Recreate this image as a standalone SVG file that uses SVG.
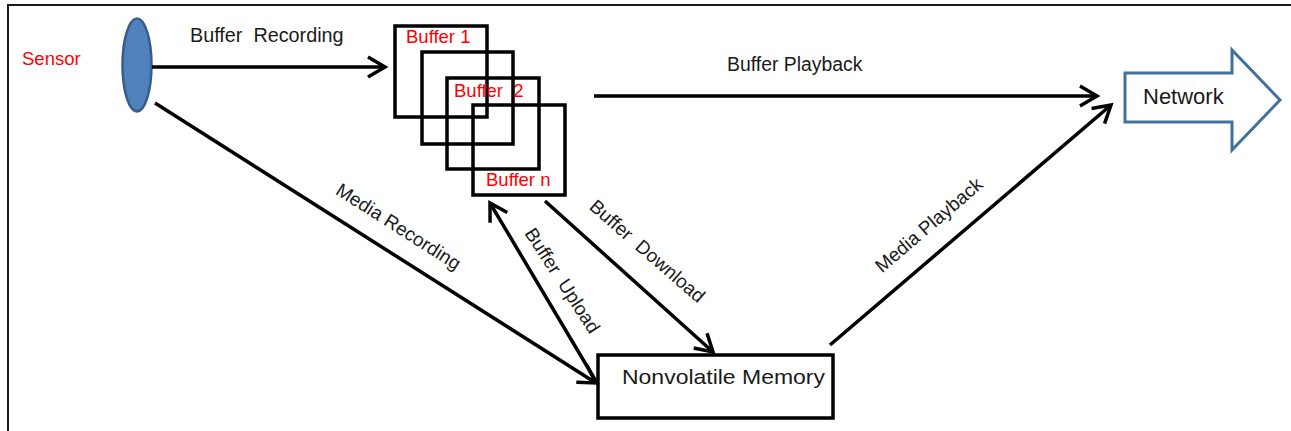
<svg xmlns="http://www.w3.org/2000/svg" width="1291" height="431" viewBox="0 0 1291 431">
<style>
.lbl{font-family:"Liberation Sans",Arial,sans-serif;font-size:19px;fill:#1a1a1a;white-space:pre}
.red{font-family:"Liberation Sans",Arial,sans-serif;font-size:18.5px;fill:#ff0000;white-space:pre}
.box{fill:none;stroke:#000;stroke-width:3.5}
.conn{fill:none;stroke:#000;stroke-width:3.5}
</style>
<defs>
<marker id="arr" viewBox="-22 -14 26 28" refX="0" refY="0" markerUnits="userSpaceOnUse" markerWidth="26" markerHeight="28" orient="auto-start-reverse">
<path d="M-17,-10 L0,0 L-17,10" fill="none" stroke="#000" stroke-width="3.5" stroke-linejoin="miter"/>
</marker>
</defs>
<rect width="1291" height="431" fill="#fff"/>
<path d="M8,431 L8,5 L1291,5" fill="none" stroke="#1a1a1a" stroke-width="2"/>

<g id="sensor">
<ellipse cx="137" cy="65" rx="14.5" ry="46.5" fill="#4f81bd" stroke="#385d8a" stroke-width="2.5"/>
<text class="red" x="22" y="65">Sensor</text>
</g>

<g id="buffers">
<rect class="box" x="395" y="26" width="92" height="91"/>
<rect class="box" x="422" y="52" width="91" height="92"/>
<rect class="box" x="447" y="78" width="92" height="91"/>
<rect class="box" x="473" y="105" width="92" height="90"/>
<text class="red" x="406" y="43">Buffer 1</text>
<text class="red" x="454" y="97">Buffer  2</text>
<text class="red" x="486" y="186">Buffer n</text>
</g>

<g id="network">
<path d="M1125,73 L1232,73 L1232,50 L1280,100 L1232,150 L1232,122 L1125,122 Z" fill="#fff" stroke="#41719c" stroke-width="3"/>
<text class="lbl" x="1143" y="104" style="font-size:22px">Network</text>
</g>

<g id="memory">
<rect class="box" x="598" y="355" width="235" height="63"/>
<text class="lbl" x="622" y="384" style="font-size:21px" textLength="203" lengthAdjust="spacingAndGlyphs">Nonvolatile Memory</text>
</g>

<g id="connectors">
<line class="conn" x1="152" y1="67" x2="385" y2="67" marker-end="url(#arr)"/>
<line class="conn" x1="594" y1="96" x2="1097" y2="96" marker-end="url(#arr)"/>
<line class="conn" x1="155" y1="103" x2="596" y2="383" marker-end="url(#arr)"/>
<line class="conn" x1="597" y1="383" x2="490" y2="203" marker-end="url(#arr)"/>
<line class="conn" x1="545" y1="201" x2="713" y2="352" marker-end="url(#arr)"/>
<line class="conn" x1="830" y1="345" x2="1111" y2="105" marker-end="url(#arr)"/>
<text class="lbl" x="190" y="42" style="font-size:19.8px">Buffer  Recording</text>
<text class="lbl" x="727" y="71" style="font-size:19.4px">Buffer Playback</text>
<text class="lbl" text-anchor="middle" transform="translate(395,232) rotate(32.5)">Media Recording</text>
<text class="lbl" text-anchor="middle" transform="translate(557,284) rotate(57)">Buffer  Upload</text>
<text class="lbl" text-anchor="middle" transform="translate(643,256) rotate(41)">Buffer  Download</text>
<text class="lbl" text-anchor="middle" transform="translate(933,230) rotate(-40.5)">Media Playback</text>
</g>
</svg>
